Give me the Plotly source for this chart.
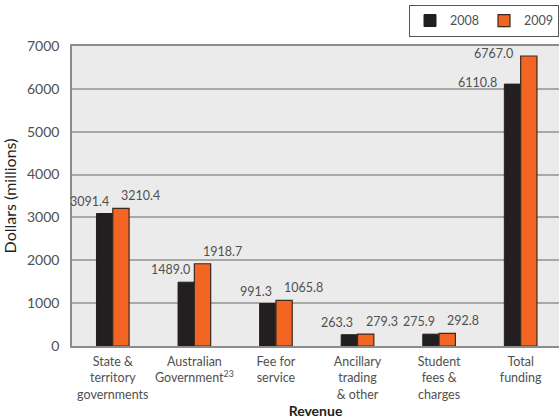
import plotly.graph_objects as go

categories = [
    "State &<br>territory<br>governments",
    "Australian<br>Government<sup>23</sup>",
    "Fee for<br>service",
    "Ancillary<br>trading<br>& other",
    "Student<br>fees &<br>charges",
    "Total<br>funding",
]
values_2008 = [3091.4, 1489.0, 991.3, 263.3, 275.9, 6110.8]
values_2009 = [3210.4, 1918.7, 1065.8, 279.3, 292.8, 6767.0]
y_ticks = [0, 1000, 2000, 3000, 4000, 5000, 6000, 7000]

FONT = "Lato"
TXT = "#505050"
positions = list(range(len(categories)))
bar_w = 0.2

fig = go.Figure()
fig.add_trace(go.Bar(
    name="2008", x=[p - bar_w / 2 for p in positions], y=values_2008, width=bar_w,
    marker=dict(color="#231f20", line=dict(color="#231f20", width=1)),
))
fig.add_trace(go.Bar(
    name="2009", x=[p + bar_w / 2 for p in positions], y=values_2009, width=bar_w,
    marker=dict(color="#f26522", line=dict(color="#3a2a22", width=1.2)),
))

# value labels above each bar; the last pair sits beside the bar tops, to the left
for i, (p, v) in enumerate(zip(positions, values_2008)):
    if i == len(positions) - 1:
        fig.add_annotation(x=p - bar_w / 2, y=v, text=f"{v:.1f}", showarrow=False,
                           xanchor="right", yanchor="middle", xshift=-14, yshift=2,
                           font=dict(family=FONT, size=12.5, color=TXT))
    else:
        fig.add_annotation(x=p - bar_w / 2, y=v, text=f"{v:.1f}", showarrow=False,
                           xanchor="right", yanchor="bottom", xshift=6, yshift=3,
                           font=dict(family=FONT, size=12.5, color=TXT))
for i, (p, v) in enumerate(zip(positions, values_2009)):
    if i == len(positions) - 1:
        fig.add_annotation(x=p + bar_w / 2, y=v, text=f"{v:.1f}", showarrow=False,
                           xanchor="right", yanchor="middle", xshift=-14, yshift=2,
                           font=dict(family=FONT, size=12.5, color=TXT))
    else:
        fig.add_annotation(x=p + bar_w / 2, y=v, text=f"{v:.1f}", showarrow=False,
                           xanchor="left", yanchor="bottom", xshift=-2, yshift=3,
                           font=dict(family=FONT, size=12.5, color=TXT))

fig.update_layout(
    width=559, height=420,
    margin=dict(l=72, r=0, t=46, b=74),
    paper_bgcolor="white", plot_bgcolor="#ebebeb",
    font=dict(family=FONT, size=13, color=TXT),
    barmode="overlay",
    showlegend=True,
    legend=dict(
        orientation="h", x=1.0, xanchor="right", y=1.137, yanchor="top",
        yref="paper", bordercolor="#555", borderwidth=1, bgcolor="white",
        font=dict(family=FONT, size=12.5, color=TXT),
        itemwidth=30, traceorder="normal",
    ),
    xaxis=dict(
        tickmode="array", tickvals=positions, ticktext=categories,
        range=[-0.5, 5.47], showgrid=False, zeroline=False,
        showline=True, linecolor="#8c8c8c", linewidth=2, mirror=True,
        ticks="outside", ticklen=3, tickcolor="rgba(0,0,0,0)",
        tickfont=dict(family=FONT, size=12.5, color=TXT),
        title=dict(text="<b>Revenue</b>", font=dict(family=FONT, size=14, color="#231f20"),
                   standoff=6),
    ),
    yaxis=dict(
        range=[0, 7000], tickmode="array", tickvals=y_ticks,
        showgrid=True, gridcolor="#a8a8a8", gridwidth=2, zeroline=False,
        showline=True, linecolor="#8c8c8c", linewidth=1.5,
        ticks="", ticklabelstandoff=8,
        tickfont=dict(family=FONT, size=14, color=TXT),
        title=dict(text="Dollars (millions)", font=dict(family=FONT, size=16, color="#231f20"),
                   standoff=6),
    ),
)

fig.write_html("out.html")
